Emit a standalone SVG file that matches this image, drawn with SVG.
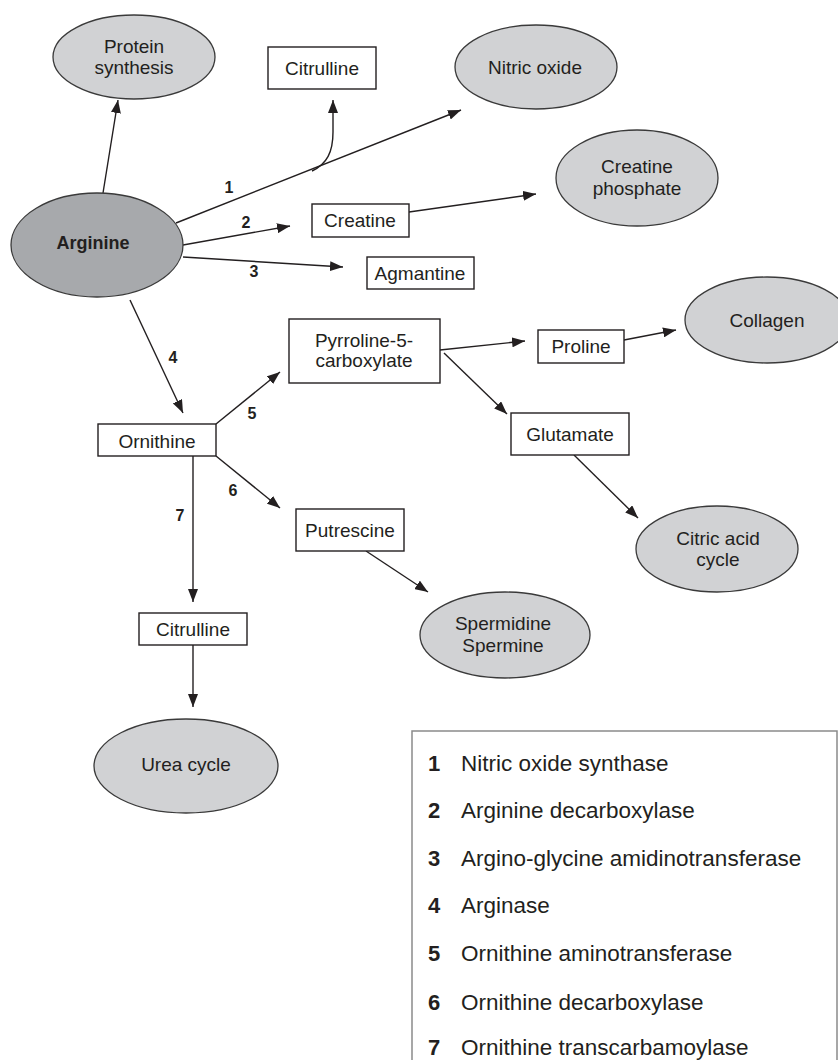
<svg xmlns="http://www.w3.org/2000/svg" width="838" height="1060" viewBox="0 0 838 1060">
<style>
text{font-family:"Liberation Sans",Arial,sans-serif;fill:#231f20}
.n{font-size:19px;text-anchor:middle}
.b{font-size:16px;font-weight:bold;text-anchor:middle}
.lg{font-size:22.5px}
.lgn{font-size:22px;font-weight:bold}
.ell{fill:#d1d2d4;stroke:#3a3a3a;stroke-width:1.3}
.box{fill:#fff;stroke:#231f20;stroke-width:1.4}
.c{fill:none;stroke:#231f20;stroke-width:1.4;marker-end:url(#ah)}
</style>
<defs>
<marker id="ah" markerUnits="userSpaceOnUse" markerWidth="13" markerHeight="10" refX="13" refY="5" orient="auto">
<path d="M0,0 L13,5 L0,10 z" fill="#231f20"/>
</marker>
</defs>
<rect width="838" height="1060" fill="#fff"/>
<g id="connectors">
<line class="c" x1="103" y1="193" x2="118" y2="100"/>
<line class="c" x1="176" y1="223" x2="461" y2="110"/>
<path class="c" d="M312,171 C327,164 333,152 333,132 L333,100"/>
<line class="c" x1="183" y1="245" x2="290" y2="226"/>
<line class="c" x1="409" y1="212" x2="536" y2="194"/>
<line class="c" x1="183" y1="257" x2="343" y2="267"/>
<line class="c" x1="130" y1="300" x2="183" y2="413"/>
<line class="c" x1="216" y1="424" x2="280" y2="372"/>
<line class="c" x1="216" y1="456" x2="280" y2="508"/>
<line class="c" x1="193" y1="456" x2="193" y2="602"/>
<line class="c" x1="193" y1="645" x2="193" y2="707"/>
<line class="c" x1="366" y1="551" x2="428" y2="592"/>
<line class="c" x1="440" y1="350" x2="525" y2="341"/>
<line class="c" x1="624" y1="340" x2="676" y2="330"/>
<line class="c" x1="444" y1="353" x2="507" y2="414"/>
<line class="c" x1="574" y1="455" x2="638" y2="518"/>
</g>
<g id="labels">
<text class="b" x="229" y="193">1</text>
<text class="b" x="246" y="228">2</text>
<text class="b" x="254" y="277">3</text>
<text class="b" x="173" y="363">4</text>
<text class="b" x="252" y="419">5</text>
<text class="b" x="233" y="496">6</text>
<text class="b" x="180" y="521">7</text>
</g>
<g id="protein-synthesis"><ellipse class="ell" cx="134" cy="57" rx="81" ry="42"/><text class="n" x="134" y="53">Protein</text><text class="n" x="134" y="74">synthesis</text></g>
<g id="citrulline-top"><rect class="box" x="268" y="47" width="108" height="42"/><text class="n" x="322" y="75">Citrulline</text></g>
<g id="nitric-oxide"><ellipse class="ell" cx="536" cy="67" rx="81" ry="42"/><text class="n" x="535" y="74">Nitric oxide</text></g>
<g id="creatine-phosphate"><ellipse class="ell" cx="637" cy="178" rx="81" ry="48"/><text class="n" x="637" y="173">Creatine</text><text class="n" x="637" y="195">phosphate</text></g>
<g id="arginine"><ellipse cx="97" cy="245" rx="86" ry="52" fill="#a7a9ac" stroke="#3a3a3a" stroke-width="1.3"/><text x="93" y="249" style="font-size:18px;font-weight:bold;text-anchor:middle">Arginine</text></g>
<g id="creatine"><rect class="box" x="312" y="204" width="97" height="33"/><text class="n" x="360" y="227">Creatine</text></g>
<g id="agmantine"><rect class="box" x="367" y="257" width="107" height="32"/><text class="n" x="420" y="280">Agmantine</text></g>
<g id="pyrroline"><rect class="box" x="289" y="319" width="151" height="64"/><text class="n" x="364" y="347">Pyrroline-5-</text><text class="n" x="364" y="367">carboxylate</text></g>
<g id="proline"><rect class="box" x="538" y="330" width="86" height="33"/><text class="n" x="581" y="353">Proline</text></g>
<g id="collagen"><ellipse class="ell" cx="767" cy="320" rx="82" ry="43"/><text class="n" x="767" y="327">Collagen</text></g>
<g id="ornithine"><rect class="box" x="98" y="424" width="118" height="32"/><text class="n" x="157" y="448">Ornithine</text></g>
<g id="glutamate"><rect class="box" x="511" y="413" width="118" height="42"/><text class="n" x="570" y="441">Glutamate</text></g>
<g id="putrescine"><rect class="box" x="296" y="509" width="108" height="42"/><text class="n" x="350" y="537">Putrescine</text></g>
<g id="citric-acid-cycle"><ellipse class="ell" cx="717" cy="549" rx="81" ry="43"/><text class="n" x="718" y="545">Citric acid</text><text class="n" x="718" y="566">cycle</text></g>
<g id="citrulline-bottom"><rect class="box" x="139" y="613" width="108" height="32"/><text class="n" x="193" y="636">Citrulline</text></g>
<g id="spermidine"><ellipse class="ell" cx="505" cy="635" rx="85" ry="43"/><text class="n" x="503" y="630">Spermidine</text><text class="n" x="503" y="652">Spermine</text></g>
<g id="urea-cycle"><ellipse class="ell" cx="186" cy="766" rx="92" ry="47"/><text class="n" x="186" y="771">Urea cycle</text></g>
<g id="legend">
<rect x="412" y="731" width="425" height="400" fill="none" stroke="#8a8a8a" stroke-width="1.5"/>
<text class="lgn" x="428" y="771">1</text><text class="lg" x="461" y="771">Nitric oxide synthase</text>
<text class="lgn" x="428" y="818">2</text><text class="lg" x="461" y="818">Arginine decarboxylase</text>
<text class="lgn" x="428" y="866">3</text><text class="lg" x="461" y="866">Argino-glycine amidinotransferase</text>
<text class="lgn" x="428" y="913">4</text><text class="lg" x="461" y="913">Arginase</text>
<text class="lgn" x="428" y="961">5</text><text class="lg" x="461" y="961">Ornithine aminotransferase</text>
<text class="lgn" x="428" y="1010">6</text><text class="lg" x="461" y="1010">Ornithine decarboxylase</text>
<text class="lgn" x="428" y="1055">7</text><text class="lg" x="461" y="1055">Ornithine transcarbamoylase</text>
</g>
</svg>
